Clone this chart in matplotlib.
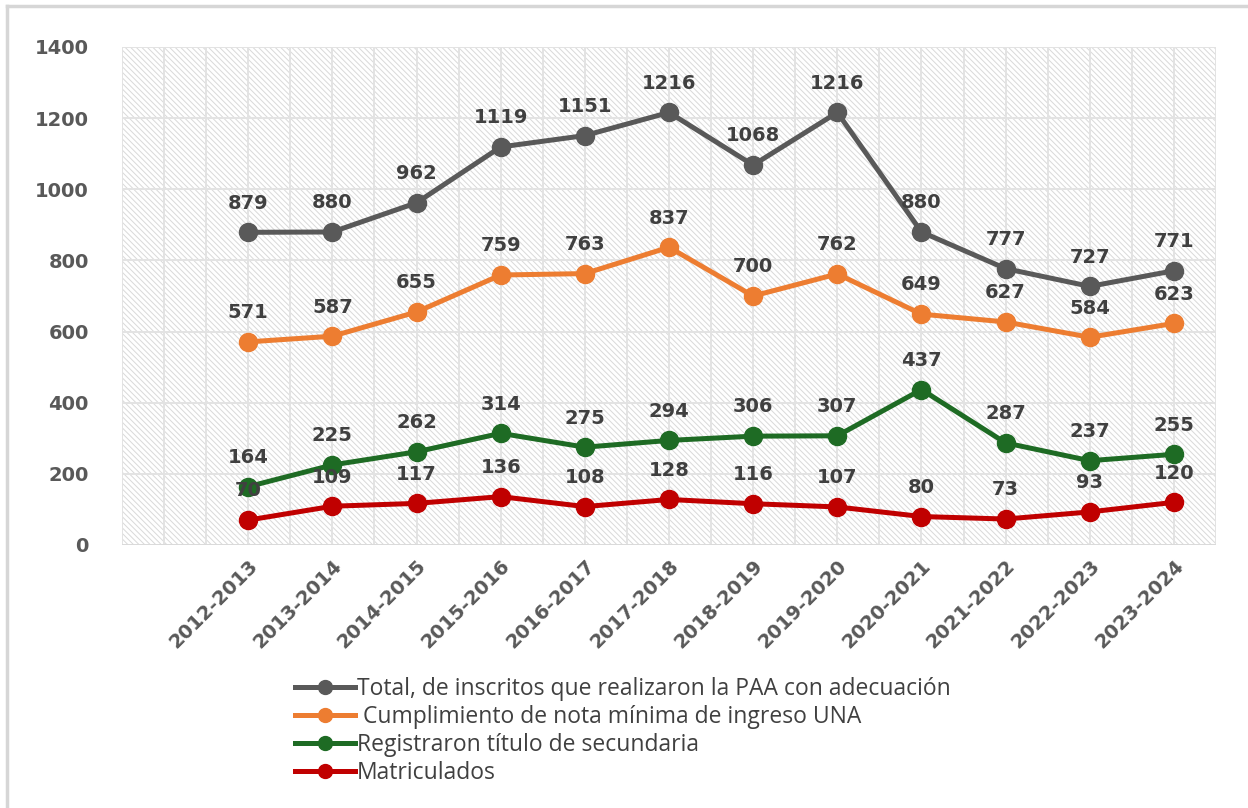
import matplotlib
matplotlib.use("Agg")
import matplotlib.pyplot as plt
from matplotlib.patches import Rectangle
from matplotlib.lines import Line2D

# data
periodos = ["2012-2013", "2013-2014", "2014-2015", "2015-2016", "2016-2017", "2017-2018",
            "2018-2019", "2019-2020", "2020-2021", "2021-2022", "2022-2023", "2023-2024"]
total_inscritos = [879, 880, 962, 1119, 1151, 1216, 1068, 1216, 880, 777, 727, 771]
nota_minima = [571, 587, 655, 759, 763, 837, 700, 762, 649, 627, 584, 623]
titulo_secundaria = [164, 225, 262, 314, 275, 294, 306, 307, 437, 287, 237, 255]
matriculados = [70, 109, 117, 136, 108, 128, 116, 107, 80, 73, 93, 120]

series = [
    ("Total, de inscritos que realizaron la PAA con adecuación", total_inscritos, "#595959"),
    (" Cumplimiento de nota mínima de ingreso UNA", nota_minima, "#ED7D31"),
    ("Registraron título de secundaria", titulo_secundaria, "#1E6B24"),
    ("Matriculados", matriculados, "#C00000"),
]

plt.rcParams["font.family"] = ["DejaVu Sans"]
plt.rcParams["hatch.linewidth"] = 0.7

fig = plt.figure(figsize=(12.48, 8.08), dpi=100)
ax = fig.add_axes([122 / 1248, 1 - 545 / 808, (1216 - 122) / 1248, (545 - 47) / 808])

# outer frame (top and left edges visible)
fig.add_artist(Line2D([7 / 1248, 7 / 1248], [0, 1 - 6 / 808], transform=fig.transFigure,
                      color="#d6d6d6", lw=2.5))
fig.add_artist(Line2D([7 / 1248, 1], [1 - 6 / 808, 1 - 6 / 808], transform=fig.transFigure,
                      color="#d6d6d6", lw=2.5))

# hatched plot background
ax.set_facecolor("white")
ax.add_patch(Rectangle((0, 0), 1, 1, transform=ax.transAxes, facecolor="white",
                       edgecolor="#d9d9d9", hatch="\\\\\\\\\\\\", lw=0, zorder=0))

# empty leading category, then the periods
x = list(range(1, len(periodos) + 1))
ax.set_xlim(-0.5, len(periodos) + 0.5)
ax.set_ylim(0, 1400)
ax.set_yticks(range(0, 1401, 200))
ax.set_xticks(x)
ax.set_xticklabels(periodos, rotation=45, ha="right", rotation_mode="anchor",
                   fontsize=14, fontweight="bold", color="#595959")
ax.tick_params(axis="x", length=0, pad=8)
ax.tick_params(axis="y", length=0, pad=24, labelsize=14, labelcolor="#595959")
for lbl in ax.get_yticklabels():
    lbl.set_fontweight("bold")

# gridlines
for v in [i * 0.5 - 0.5 for i in range(0, 2 * (len(periodos) + 1) + 1)]:
    ax.axvline(v, color="#e3e3e3", lw=1.4, zorder=1)
for h in range(0, 1401, 200):
    ax.axhline(h, color="#e3e3e3", lw=1.4, zorder=1)

for s in ax.spines.values():
    s.set_visible(False)
ax.axhline(0, color="#d9d9d9", lw=2, zorder=1)

for name, vals, col in series:
    ax.plot(x, vals, color=col, lw=3.6, marker="o", markersize=13, label=name, zorder=3)
    for xi, v in zip(x, vals):
        ax.annotate(str(v), (xi, v), xytext=(0, 21), textcoords="offset points",
                    ha="center", va="center", fontsize=14, fontweight="bold",
                    color="#404040", zorder=4)

leg = fig.legend(loc="upper left", bbox_to_anchor=(295 / 1248, 1 - 677 / 808),
                 frameon=False, handlelength=2.6, handletextpad=0.1,
                 labelspacing=0.17, borderaxespad=0, borderpad=0,
                 prop={"family": ["Open Sans", "DejaVu Sans"], "size": 16.5})
for t in leg.get_texts():
    t.set_color("#404040")
for h in leg.legend_handles:
    h.set_markersize(10)
    h.set_linewidth(3.6)

fig.savefig("out.png", dpi=100)
